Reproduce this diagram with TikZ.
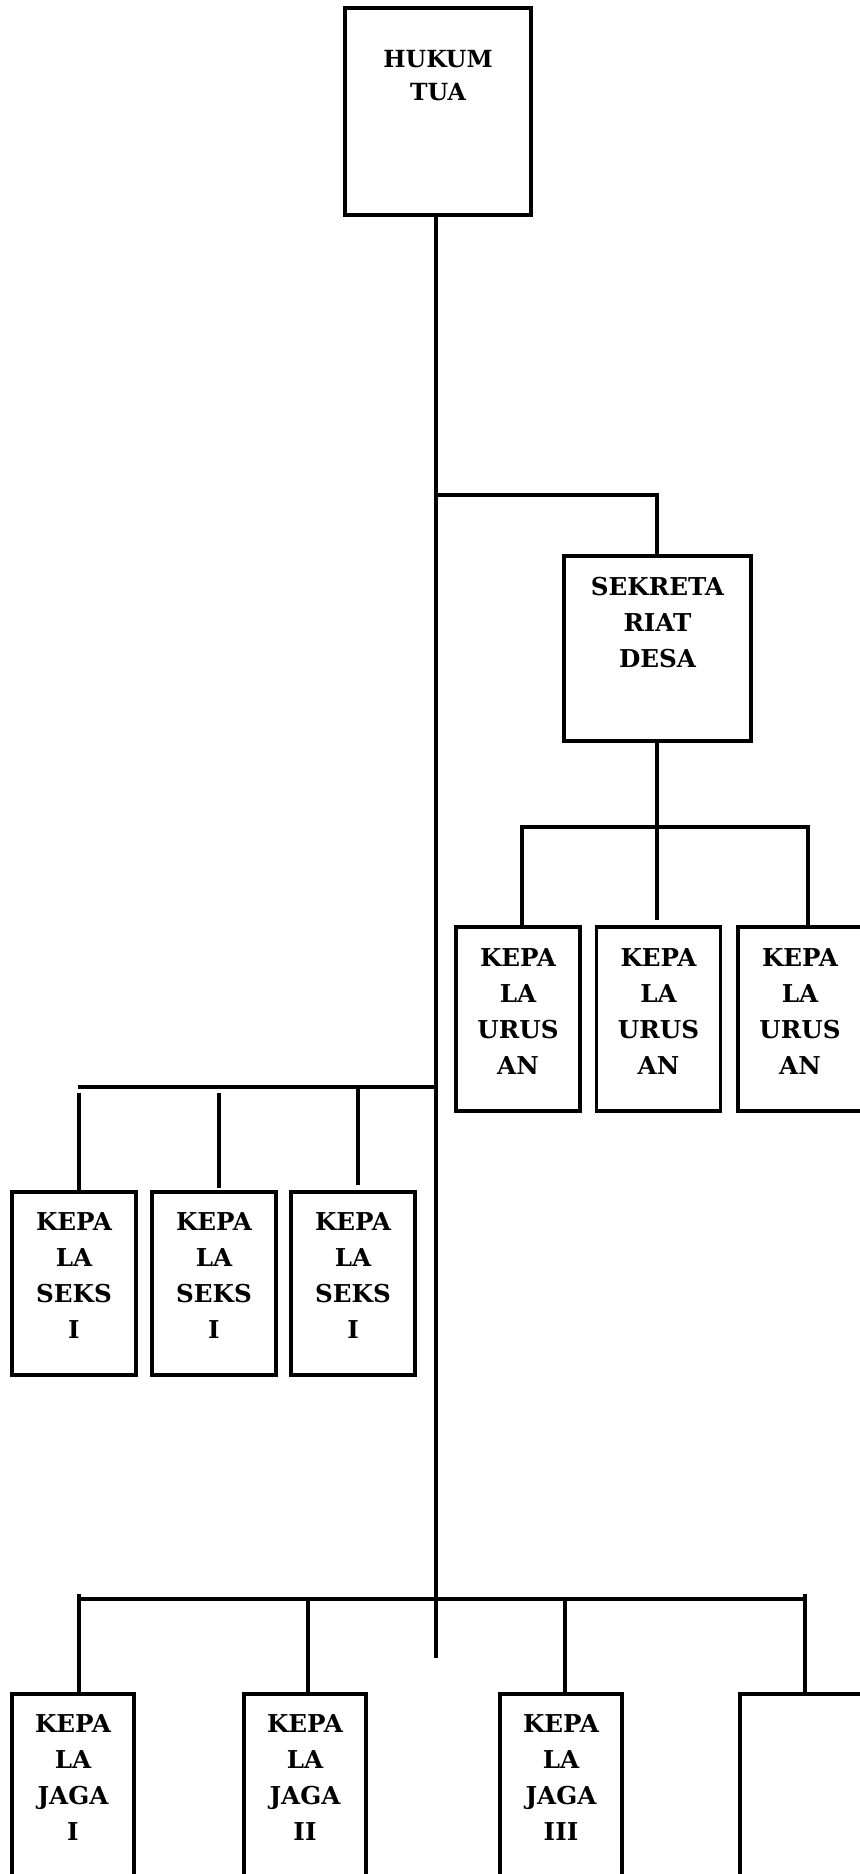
\documentclass[tikz,border=0pt]{standalone}
\usepackage{fontspec}
\setmainfont{DejaVu Serif}
\usetikzlibrary{calc}
\tikzset{
  box/.style={draw=black, line width=1.7pt, fill=white, inner sep=0pt},
  txt/.style={anchor=north, inner sep=0pt, align=center, font=\bfseries\fontsize{12.3}{18}\selectfont},
  conn/.style={draw=black, line width=1.8pt},
}
\begin{document}
\begin{tikzpicture}[x=0.5pt,y=-0.5pt]
\useasboundingbox (0,0) rectangle (859,1874);
% boxes
\node[box, minimum width=93pt, minimum height=103.5pt] (hukum) at (438,111.5) {};
\node[box, minimum width=93.5pt, minimum height=92.5pt] (sek) at (657.5,648.5) {};
\node[box, minimum width=62pt, minimum height=92pt] (u1) at (518,1019) {};
\node[box, minimum width=62pt, minimum height=92pt] (u2) at (658.5,1019) {};
\node[box, minimum width=62pt, minimum height=92pt] (u3) at (800,1019) {};
\node[box, minimum width=62pt, minimum height=91.5pt] (s1) at (74,1283.5) {};
\node[box, minimum width=62pt, minimum height=91.5pt] (s2) at (214,1283.5) {};
\node[box, minimum width=62pt, minimum height=91.5pt] (s3) at (353,1283.5) {};
\node[box, minimum width=61pt, minimum height=105pt] (j1) at (73,1799) {};
\node[box, minimum width=61pt, minimum height=105pt] (j2) at (305,1799) {};
\node[box, minimum width=61pt, minimum height=105pt] (j3) at (561,1799) {};
\node[box, minimum width=61pt, minimum height=105pt] (j4) at (801,1799) {};
% texts
\node[txt, font=\bfseries\fontsize{11.8}{16.5}\selectfont] (thukum) at (438,50) {HUKUM\\TUA};
\node[txt] (tsek) at (657.5,577) {SEKRETA\\RIAT\\DESA};
\node[txt] (tu1) at (518,948) {KEPA\\LA\\URUS\\AN};
\node[txt] (tu2) at (658.5,948) {KEPA\\LA\\URUS\\AN};
\node[txt] (tu3) at (800,948) {KEPA\\LA\\URUS\\AN};
\node[txt] (ts1) at (74,1212) {KEPA\\LA\\SEKS\\I};
\node[txt] (ts2) at (214,1212) {KEPA\\LA\\SEKS\\I};
\node[txt] (ts3) at (353,1212) {KEPA\\LA\\SEKS\\I};
\node[txt] (tj1) at (73,1714) {KEPA\\LA\\JAGA\\I};
\node[txt] (tj2) at (305,1714) {KEPA\\LA\\JAGA\\II};
\node[txt] (tj3) at (561,1714) {KEPA\\LA\\JAGA\\III};
% coordinates
\coordinate (mainend) at (436,1658);
\coordinate (bsek) at (436,495);
\coordinate (burus) at (657,827);
\coordinate (bseksL) at (78,1087);
\coordinate (bseks) at (436,1087);
\coordinate (bjagaL) at (79,1599);
\coordinate (bjagaR) at (805,1599);
% connectors
\draw[conn] (hukum.south -| mainend) -- (mainend);
\draw[conn] (bsek) -| (sek.north -| burus);
\draw[conn] (sek.south -| burus) -- ($(u2.north -| burus)+(0,-5)$);
\draw[conn] ($(u1.north)+(4,0)$) |- (burus) -| ($(u3.north)+(8,0)$);
\draw[conn] (bseksL) -- (bseks);
\draw[conn] ($(s1.north)+(5,0)$) -- ($(s1.north |- bseksL)+(5,6)$);
\draw[conn] ($(s2.north)+(5,-2)$) -- ($(s2.north |- bseksL)+(5,6)$);
\draw[conn] ($(s3.north)+(5,-5)$) -- ($(s3.north |- bseksL)+(5,0)$);
\draw[conn] (bjagaL) -- (bjagaR);
\draw[conn] ($(j1.north)+(6,0)$) -- ($(j1.north |- bjagaL)+(6,-5)$);
\draw[conn] ($(j2.north)+(3,3)$) -- ($(j2.north |- bjagaL)+(3,0)$);
\draw[conn] ($(j3.north)+(4,3)$) -- ($(j3.north |- bjagaL)+(4,0)$);
\draw[conn] ($(j4.north)+(4,0)$) -- ($(j4.north |- bjagaL)+(4,-5)$);
\end{tikzpicture}
\end{document}
